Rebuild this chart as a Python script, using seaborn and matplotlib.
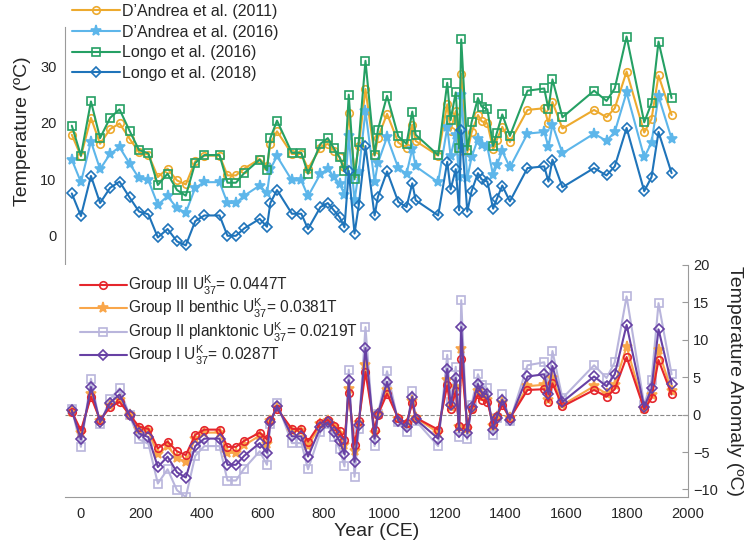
import pandas as pd
import seaborn as sns
import matplotlib.pyplot as plt

# years of the samples (CE)
years = [-27, 3, 36, 66, 99, 130, 163, 194, 225, 256, 288, 319, 348, 379, 409,
         459, 485, 513, 540, 591, 615, 626, 648, 697, 728, 750, 791, 815, 835, 854,
         870, 884, 903, 917, 939, 969, 980, 1010, 1047, 1074, 1093, 1104, 1178, 1208, 1219,
         1236, 1247, 1254, 1274, 1288, 1309, 1321, 1340, 1359, 1371, 1389, 1414, 1472, 1527, 1541,
         1554, 1587, 1691, 1732, 1759, 1798, 1856, 1880, 1903, 1946]

# top panel: temperature (degC)
dandrea_2011 = [17.9, 14.1, 20.9, 16.3, 18.9, 19.9, 17.2, 14.8, 14.4, 10.4, 11.9, 9.8, 9.1, 13.2, 14.2,
                14.2, 10.7, 10.7, 11.9, 13.6, 12.3, 16.3, 18.5, 14.5, 14.5, 11.9, 15.6, 16.3, 15.1, 13.9,
                12.1, 21.8, 11.2, 15.9, 26.0, 14.2, 17.4, 21.6, 16.5, 15.6, 19.7, 16.8, 14.2, 23.3, 18.6,
                22.1, 15.1, 28.7, 14.8, 18.3, 21.4, 20.3, 19.9, 15.3, 17.0, 19.3, 16.6, 22.3, 22.6, 19.9,
                23.7, 19.0, 22.3, 21.0, 22.6, 29.1, 18.3, 20.7, 28.4, 21.4]
dandrea_2016 = [13.5, 9.5, 16.7, 11.8, 14.5, 15.7, 12.8, 10.2, 9.8, 5.5, 7.0, 4.9, 4.1, 8.5, 9.5,
                9.5, 5.8, 5.8, 7.1, 8.9, 7.5, 11.8, 14.1, 9.8, 9.8, 7.0, 11.0, 11.8, 10.4, 9.2,
                7.3, 17.6, 6.3, 11.3, 22.1, 9.5, 12.9, 17.5, 12.0, 11.0, 15.4, 12.3, 9.5, 19.2, 14.2,
                17.9, 10.4, 25.0, 10.2, 13.9, 17.2, 16.0, 15.7, 10.7, 12.5, 15.0, 12.1, 18.1, 18.4, 15.7,
                19.7, 14.6, 18.1, 16.8, 18.4, 25.4, 13.9, 16.5, 24.7, 17.2]
longo_2016 = [19.5, 14.2, 23.8, 17.3, 20.9, 22.4, 18.6, 15.2, 14.6, 9.0, 11.0, 8.1, 7.1, 12.9, 14.3,
              14.3, 9.4, 9.4, 11.1, 13.5, 11.6, 17.3, 20.4, 14.7, 14.7, 11.0, 16.3, 17.3, 15.5, 13.9,
              11.4, 25.0, 10.0, 16.7, 31.0, 14.3, 18.8, 24.8, 17.6, 16.3, 22.0, 17.9, 14.3, 27.1, 20.5,
              25.4, 15.5, 34.8, 15.2, 20.1, 24.4, 22.9, 22.4, 15.9, 18.2, 21.5, 17.7, 25.7, 26.1, 22.4,
              27.7, 21.0, 25.7, 23.9, 26.1, 35.3, 20.1, 23.5, 34.4, 24.4]
longo_2018 = [7.5, 3.5, 10.6, 5.8, 8.5, 9.6, 6.8, 4.3, 3.8, -0.3, 1.2, -1.0, -1.7, 2.6, 3.6,
              3.6, 0.0, 0.0, 1.3, 3.0, 1.6, 5.8, 8.1, 3.9, 3.9, 1.2, 5.1, 5.8, 4.5, 3.3,
              1.5, 11.5, 0.4, 5.4, 15.9, 3.6, 6.9, 11.4, 6.0, 5.1, 9.3, 6.3, 3.6, 13.1, 8.2,
              11.8, 4.5, 18.7, 4.3, 7.9, 11.1, 10.0, 9.6, 4.8, 6.5, 8.9, 6.1, 12.0, 12.3, 9.6,
              13.5, 8.6, 12.0, 10.7, 12.3, 19.1, 7.9, 10.4, 18.4, 11.1]

# bottom panel: temperature anomaly (degC)
group3 = [0.4, -2.1, 2.4, -0.7, 1.0, 1.7, 0.0, -1.6, -1.9, -4.5, -3.6, -4.9, -5.4, -2.7, -2.0,
          -2.0, -4.3, -4.3, -3.5, -2.4, -3.3, -0.7, 0.8, -1.9, -1.9, -3.6, -1.1, -0.7, -1.5, -2.2,
          -3.4, 2.9, -4.0, -0.9, 5.7, -2.0, 0.0, 2.8, -0.5, -1.1, 1.5, -0.4, -2.0, 3.9, 0.8,
          3.1, -1.5, 7.5, -1.6, 0.7, 2.7, 2.0, 1.7, -1.3, -0.2, 1.3, -0.5, 3.3, 3.4, 1.7,
          4.2, 1.1, 3.3, 2.4, 3.4, 7.7, 0.7, 2.2, 7.3, 2.7]
group2_benthic = [0.4, -2.5, 2.8, -0.8, 1.2, 2.0, -0.1, -1.9, -2.2, -5.3, -4.2, -5.8, -6.3, -3.2, -2.4,
                  -2.4, -5.1, -5.1, -4.1, -2.8, -3.9, -0.8, 0.9, -2.2, -2.2, -4.2, -1.3, -0.8, -1.7, -2.6,
                  -4.0, 3.4, -4.8, -1.1, 6.7, -2.4, 0.1, 3.3, -0.6, -1.3, 1.8, -0.4, -2.4, 4.6, 1.0,
                  3.7, -1.7, 8.8, -1.9, 0.8, 3.1, 2.3, 2.0, -1.5, -0.3, 1.5, -0.5, 3.8, 4.0, 2.0,
                  4.9, 1.3, 3.8, 2.8, 4.0, 9.1, 0.8, 2.6, 8.6, 3.1]
group2_planktonic = [0.8, -4.3, 4.8, -1.3, 2.1, 3.5, -0.1, -3.3, -3.9, -9.2, -7.3, -10.1, -11.0, -5.5, -4.2,
                     -4.2, -8.8, -8.8, -7.2, -4.9, -6.7, -1.3, 1.6, -3.8, -3.8, -7.3, -2.3, -1.3, -3.0, -4.6,
                     -6.9, 6.0, -8.3, -1.9, 11.7, -4.2, 0.1, 5.8, -1.0, -2.3, 3.1, -0.8, -4.2, 8.0, 1.7,
                     6.4, -3.0, 15.3, -3.3, 1.3, 5.4, 4.0, 3.5, -2.7, -0.5, 2.7, -0.9, 6.6, 7.0, 3.5,
                     8.5, 2.2, 6.6, 4.9, 7.0, 15.8, 1.3, 4.6, 14.9, 5.4]
group1 = [0.6, -3.3, 3.7, -1.0, 1.6, 2.7, -0.1, -2.5, -3.0, -7.0, -5.6, -7.7, -8.4, -4.2, -3.2,
          -3.2, -6.7, -6.7, -5.5, -3.8, -5.1, -1.0, 1.2, -2.9, -2.9, -5.6, -1.7, -1.0, -2.3, -3.5,
          -5.3, 4.6, -6.3, -1.4, 8.9, -3.2, 0.1, 4.4, -0.8, -1.7, 2.4, -0.6, -3.2, 6.1, 1.3,
          4.9, -2.3, 11.7, -2.5, 1.0, 4.1, 3.0, 2.7, -2.0, -0.4, 2.0, -0.7, 5.1, 5.4, 2.7,
          6.5, 1.7, 5.1, 3.8, 5.4, 12.0, 1.0, 3.5, 11.4, 4.1]

sns.set_style('white')
plt.rcParams['font.family'] = ['Liberation Sans', 'DejaVu Sans']
plt.rcParams['mathtext.fontset'] = 'custom'
plt.rcParams['mathtext.rm'] = 'Liberation Sans'

grey = '#9a9a9a'
txt = '#262626'

fig = plt.figure(figsize=(7.45, 5.5), dpi=100)
ax1 = fig.add_axes([0.087, 0.52, 0.8365, 0.431])
ax2 = fig.add_axes([0.087, 0.0964, 0.8365, 0.4218])

top = pd.DataFrame({'year': years, "D\u2019Andrea et al. (2011)": dandrea_2011,
                    "D\u2019Andrea et al. (2016)": dandrea_2016,
                    'Longo et al. (2016)': longo_2016, 'Longo et al. (2018)': longo_2018})
top_style = [("D\u2019Andrea et al. (2011)", '#EDAA2E', 'o', 'none'),
             ("D\u2019Andrea et al. (2016)", '#5DB6EA', '*', None),
             ('Longo et al. (2016)', '#25A064', 's', 'none'),
             ('Longo et al. (2018)', '#1F74BA', 'D', 'none')]
for name, col, mk, fc in top_style:
    ms = 8 if mk == '*' else (4.6 if mk == 'D' else 5.4)
    sns.lineplot(data=top, x='year', y=name, ax=ax1, color=col, marker=mk,
                 markersize=ms, markeredgewidth=1.2, markeredgecolor=col,
                 markerfacecolor=fc if fc else col, linewidth=1.5, label=name)

bot = pd.DataFrame({'year': years, 'g3': group3, 'g2b': group2_benthic,
                    'g2p': group2_planktonic, 'g1': group1})
uk = r'U$^{\mathrm{K}}_{\mathrm{37}}$'
bot_style = [('g3', 'Group III ' + uk + '= 0.0447T', '#E5262C', 'o', 'none', 3),
             ('g2b', 'Group II benthic ' + uk + '= 0.0381T', '#F9A64A', '*', None, 2),
             ('g2p', 'Group II planktonic ' + uk + '= 0.0219T', '#B9B5DC', 's', 'none', 1),
             ('g1', 'Group I ' + uk + '= 0.0287T', '#6741A4', 'D', 'none', 4)]
for col_name, name, col, mk, fc, z in bot_style:
    ms = 8 if mk == '*' else (4.6 if mk == 'D' else 5.4)
    sns.lineplot(data=bot, x='year', y=col_name, ax=ax2, color=col, marker=mk,
                 markersize=ms, markeredgewidth=1.2, markeredgecolor=col,
                 markerfacecolor=fc if fc else col, linewidth=1.5, label=name, zorder=z)
ax2.axhline(0, color='#8a8a8a', linestyle='--', linewidth=0.8, zorder=0)

# top axes styling
ax1.set_xlim(-50, 2000)
ax1.set_ylim(-5, 37)
ax1.set_yticks([0, 10, 20, 30])
ax1.set_xticks([])
ax1.set_xlabel('')
for s in ['top', 'right', 'bottom']:
    ax1.spines[s].set_visible(False)
ax1.spines['left'].set_color(grey)
ax1.tick_params(axis='y', direction='in', length=4, color=grey, labelsize=10.5, labelcolor=txt, pad=6)
ax1.set_ylabel('Temperature (\u00baC)', fontsize=14, color=txt)
ax1.yaxis.set_label_coords(-0.055, 0.56)

# bottom axes styling
ax2.set_xlim(-50, 2000)
ax2.set_ylim(-11, 20)
ax2.set_xticks(range(0, 2001, 200))
ax2.set_yticks([-10, -5, 0, 5, 10, 15, 20])
for s in ['top', 'left']:
    ax2.spines[s].set_visible(False)
for s in ['right', 'bottom']:
    ax2.spines[s].set_color(grey)
ax2.yaxis.tick_right()
ax2.yaxis.set_label_position('right')
ax2.tick_params(direction='in', length=4, color=grey, labelsize=10.5, labelcolor=txt)
ax2.tick_params(axis='x', pad=7)
ax2.set_xlabel('Year (CE)', fontsize=14, color=txt, labelpad=2)
ax2.set_ylabel('Temperature Anomaly (\u00baC)', fontsize=14, color=txt, rotation=270, labelpad=18)

leg1 = ax1.legend(loc='upper left', bbox_to_anchor=(72 / 745, 1 - 4 / 550), bbox_transform=fig.transFigure,
                  frameon=False, fontsize=11.5, handlelength=3.0, handletextpad=0.1,
                  labelspacing=0.35, borderaxespad=0, borderpad=0)
leg2 = ax2.legend(loc='upper left', bbox_to_anchor=(80 / 745, 1 - 274 / 550), bbox_transform=fig.transFigure,
                  frameon=False, fontsize=11.2, handlelength=3.0, handletextpad=0.1,
                  labelspacing=0.0, borderaxespad=0, borderpad=0)
for t in leg1.get_texts() + leg2.get_texts():
    t.set_color(txt)

fig.savefig('out.png', dpi=100)
